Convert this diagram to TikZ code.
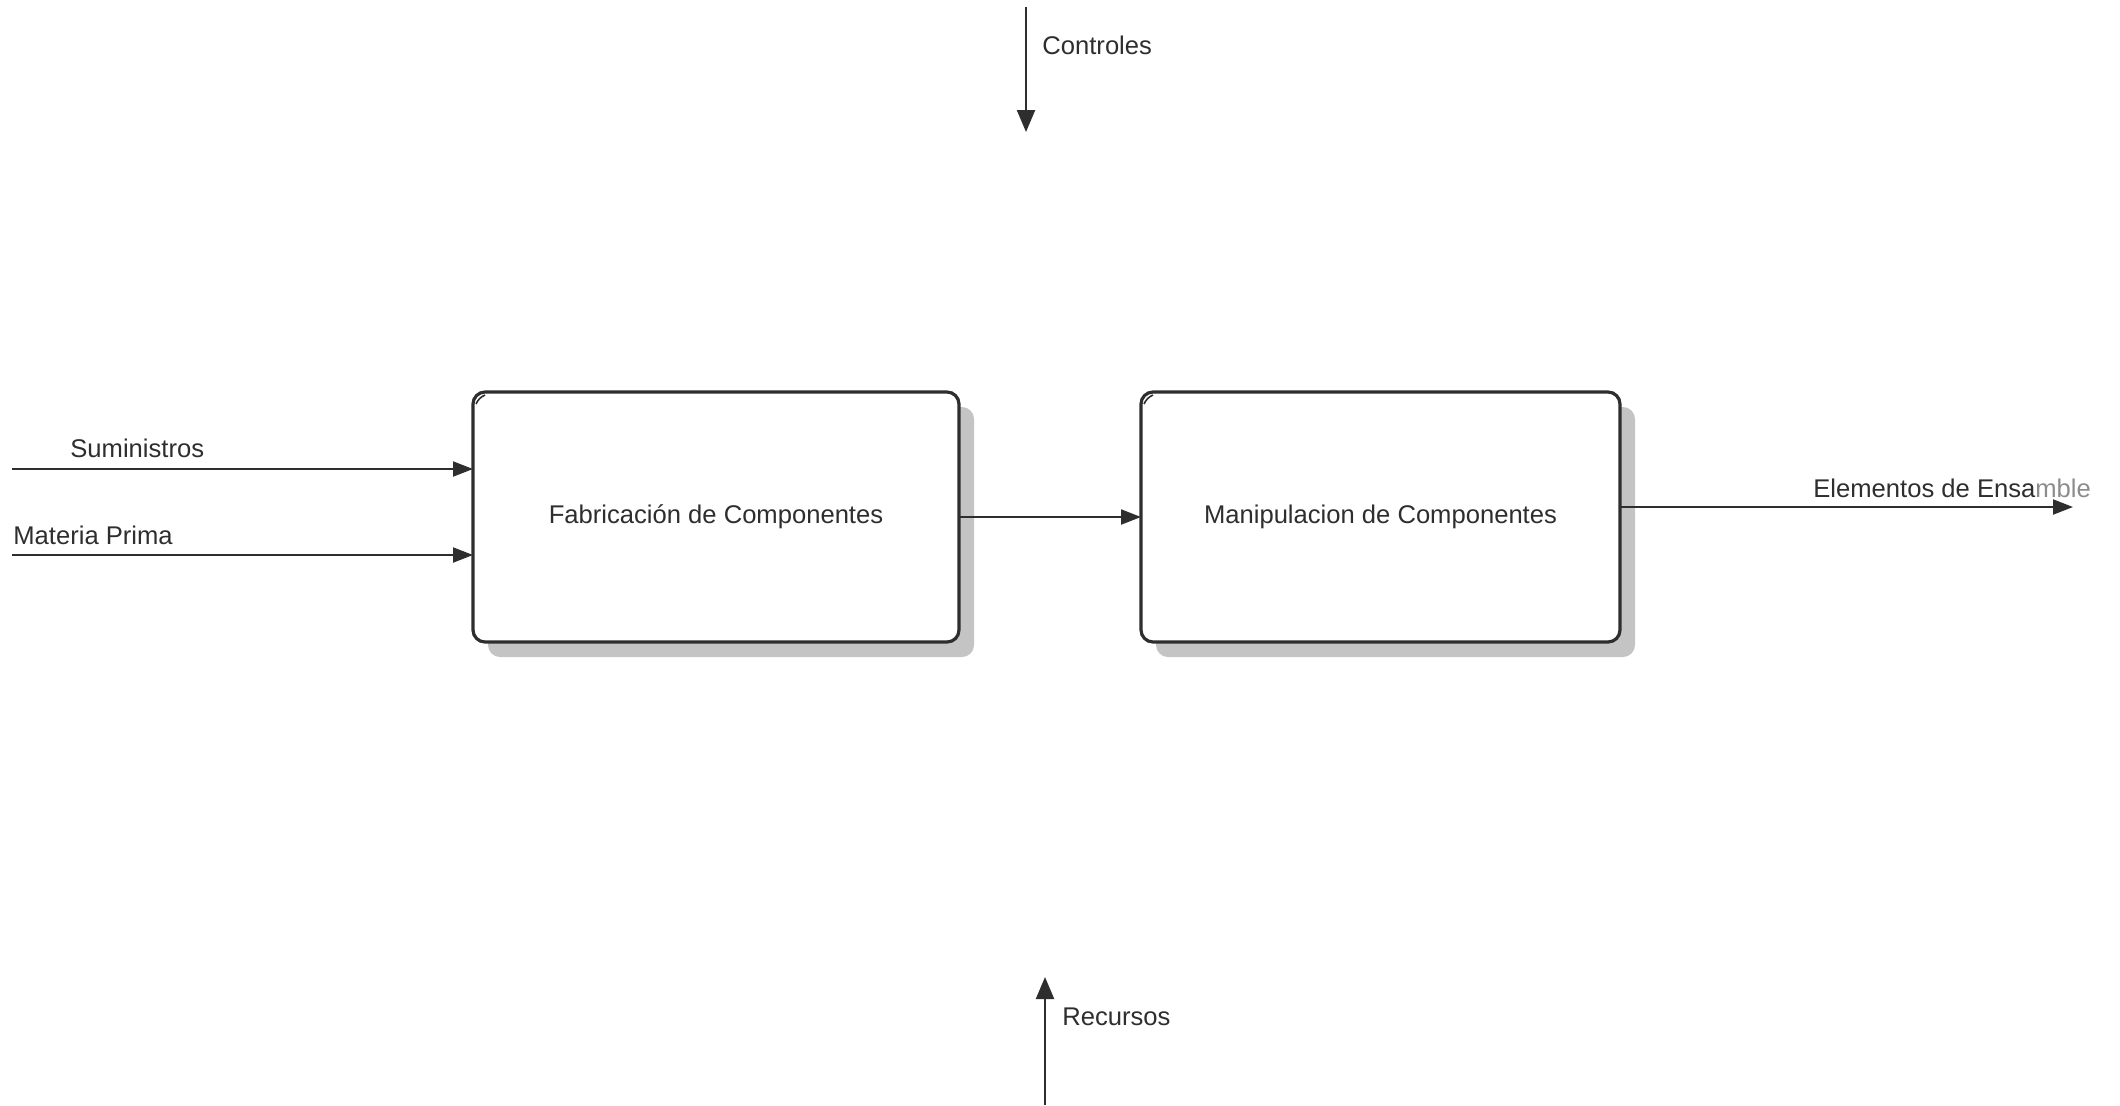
\documentclass[tikz,border=0pt]{standalone}
\usepackage{fontspec}
\setmainfont{Liberation Sans}
\usetikzlibrary{arrows.meta}
\definecolor{ink}{HTML}{2E2E2E}
\definecolor{dropgray}{HTML}{C4C4C4}
\begin{document}
\begin{tikzpicture}[x=0.5pt,y=-0.5pt,
  font=\fontsize{12.8pt}{15pt}\selectfont,
  process/.style={draw=ink,line width=1.6pt,rounded corners=6pt,fill=white,
    inner sep=0pt,outer sep=0pt,text=ink},
  drop/.style={fill=dropgray,rounded corners=6pt},
  flow/.style={draw=ink,line width=1pt,-{Triangle[length=10pt,width=7.5pt]}},
  vflow/.style={draw=ink,line width=1.1pt,-{Triangle[length=11pt,width=9pt]}},
  lbl/.style={inner sep=0pt,anchor=base west,text=ink}]
\useasboundingbox (0,0) rectangle (2120,1105);

% drop shadows behind the activity boxes
\path[drop] (488,407) rectangle (974,657);
\path[drop] (1156,407) rectangle (1635,657);

% activity boxes
\node[process,minimum width=243pt,minimum height=125pt] (f) at (716,517)
  {Fabricación de Componentes};
\node[process,minimum width=239.5pt,minimum height=125pt] (m) at (1380.5,517)
  {Manipulacion de Componentes};

% corner marks
\draw[ink,line width=0.8pt] ([shift={(3,12)}]f.north west) to[bend left=20] ([shift={(12,3)}]f.north west);
\draw[ink,line width=0.8pt] ([shift={(3,12)}]m.north west) to[bend left=20] ([shift={(12,3)}]m.north west);

% inputs
\coordinate (sIn) at (12,469);
\coordinate (pIn) at (12,555);
\draw[flow] (sIn) -- (sIn -| f.west);
\draw[flow] (pIn) -- (pIn -| f.west);
\node[lbl] (sLbl) at (70,457) {Suministros};
\node[lbl] (pLbl) at (13,544) {Materia Prima};

% between activities
\draw[flow] (f.east) -- (m.west);

% output
\coordinate (eOut) at (2073,507);
\draw[flow] (eOut -| m.east) -- (eOut);
\node[lbl] (eLbl) at (1813,497) {Elementos de Ensa\textcolor{ink!55}{mble}};

% control
\coordinate (cTop) at (1026,7);
\coordinate (cEnd) at (1026,132);
\draw[vflow] (cTop) -- (cEnd);
\node[lbl] (cLbl) at (1042,54) {Controles};

% mechanism
\coordinate (rBot) at (1045,1105);
\coordinate (rEnd) at (1045,977);
\draw[vflow] (rBot) -- (rEnd);
\node[lbl] (rLbl) at (1062,1025) {Recursos};
\end{tikzpicture}
\end{document}
